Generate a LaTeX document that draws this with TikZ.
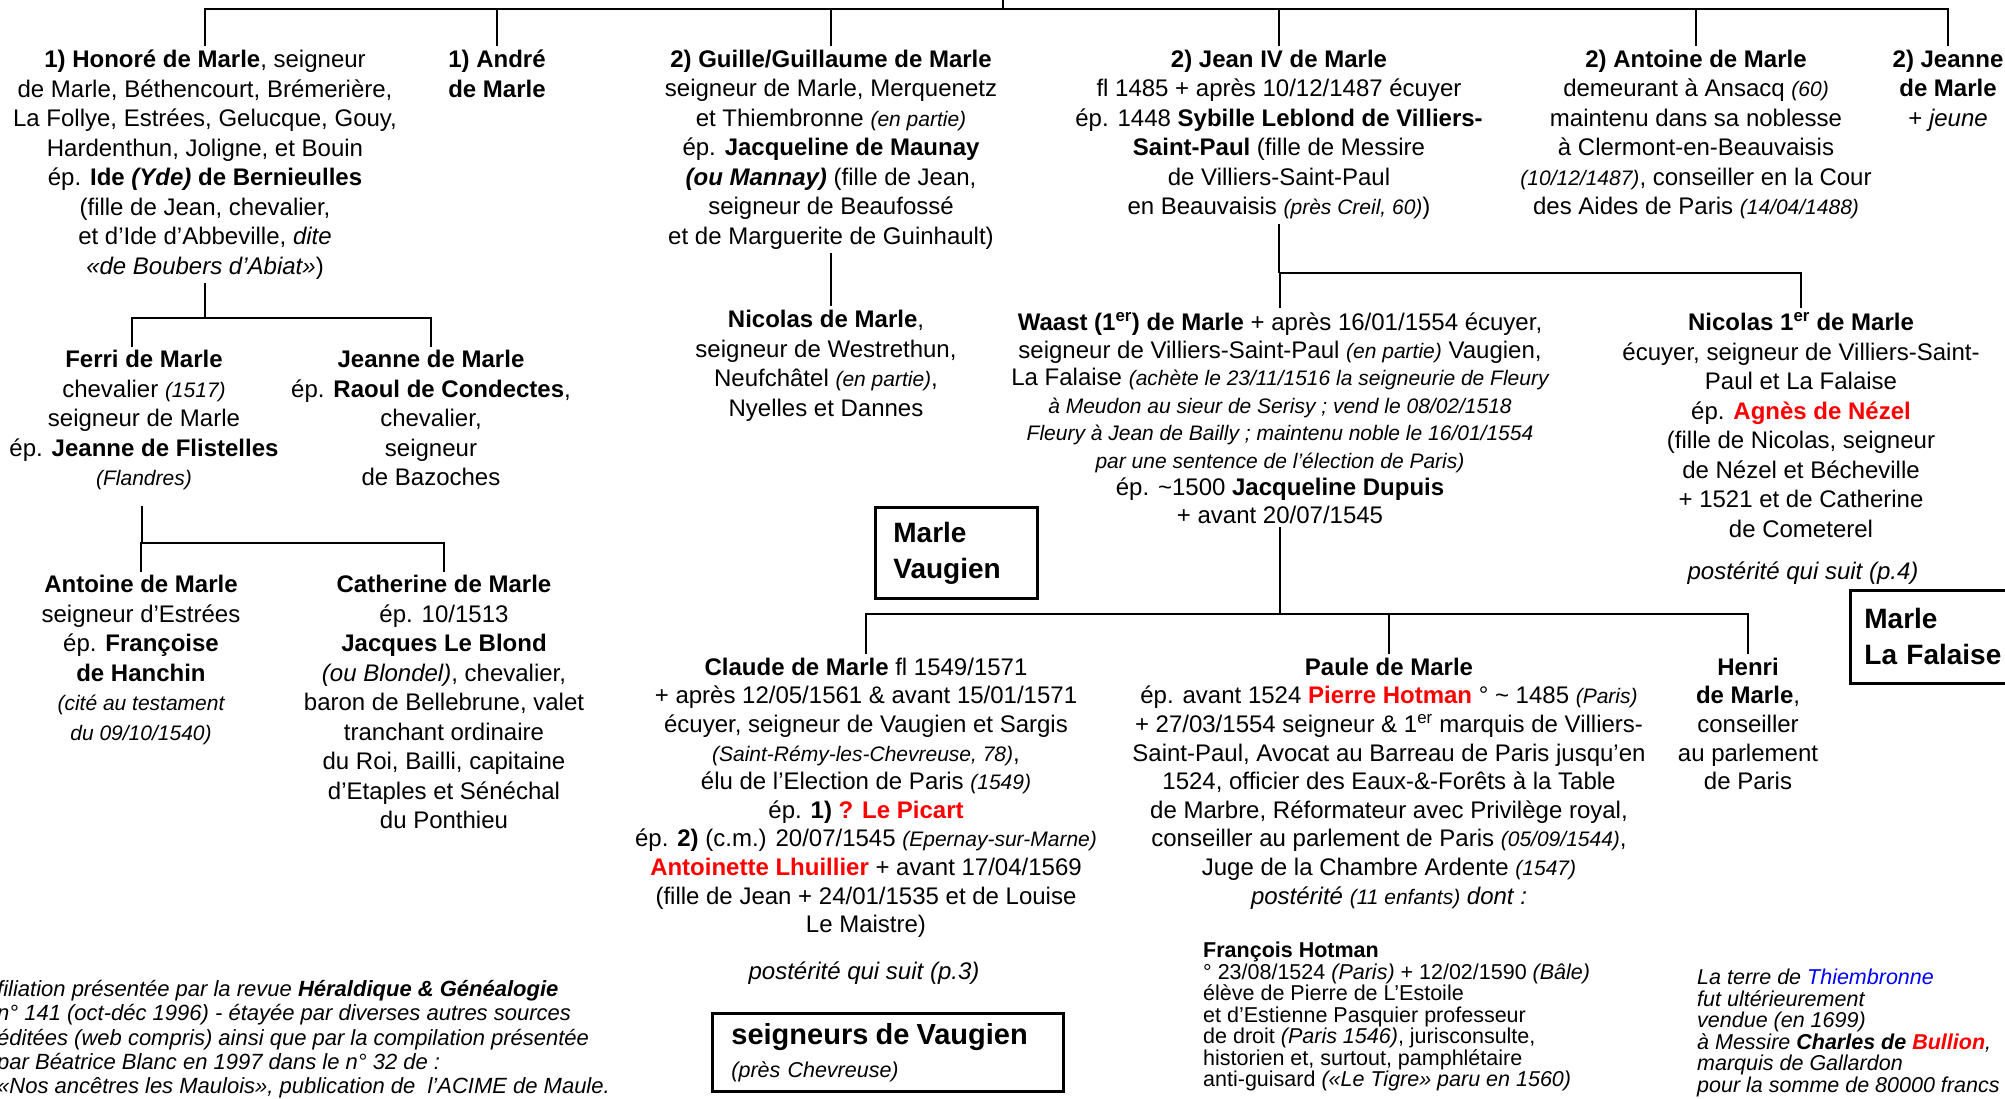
\documentclass[tikz,border=0pt]{standalone}
\usepackage{fontspec}
\setmainfont{Liberation Sans}
\usetikzlibrary{positioning}

\definecolor{nomrouge}{RGB}{255,0,0}
\definecolor{terrebleu}{RGB}{0,0,255}
\newcommand{\corps}{\fontsize{24}{29.5}\selectfont}
\newcommand{\corpsbas}{\fontsize{24}{28.6}\selectfont}
\newcommand{\notes}{\fontsize{21.5}{21.5}\selectfont}
\newcommand{\pit}[1]{{\fontsize{21}{21}\selectfont\itshape #1}}
\newcommand{\rouge}[1]{\textcolor{nomrouge}{#1}}

\begin{document}
\begin{tikzpicture}[x=1pt, y=-1pt,
    pers/.style={align=center, inner sep=0pt, outer sep=4pt, anchor=north, font=\corps},
    lien/.style={line width=2.8pt},
    cadre/.style={draw, line width=2.8pt, anchor=north west, align=left, inner ysep=0pt},
    note/.style={anchor=north west, align=left, inner sep=0pt, font=\notes}]
        \useasboundingbox (0,0) rectangle (2005,1099);
        \fill[white] (0,0) rectangle (2005,1099);

        % premiere generation
        \node[pers] (honore) at (205,46) {\textbf{1) Honoré de Marle}, seigneur\\ de Marle, Béthencourt, Brémerière,\\ La Follye, Estrées, Gelucque, Gouy,\\ Hardenthun, Joligne, et Bouin\\ ép. \textbf{Ide \textit{(Yde)} de Bernieulles}\\ (fille de Jean, chevalier,\\ et d’Ide d’Abbeville, \textit{dite}\\ \textit{«de Boubers d’Abiat»})};
        \node[pers] (andre) at (497,46) {\textbf{1) André}\\ \textbf{de Marle}};
        \node[pers] (guille) at (831,46) {\textbf{2) Guille/Guillaume de Marle}\\ seigneur de Marle, Merquenetz\\ et Thiembronne \pit{(en partie)}\\ ép. \textbf{Jacqueline de Maunay}\\ \textbf{\textit{(ou Mannay)}} (fille de Jean,\\ seigneur de Beaufossé\\ et de Marguerite de Guinhault)};
        \node[pers] (jean) at (1279,46) {\textbf{2) Jean IV de Marle}\\ fl 1485 + après 10/12/1487 écuyer\\ ép. 1448 \textbf{Sybille Leblond de Villiers-}\\ \textbf{Saint-Paul} (fille de Messire\\ de Villiers-Saint-Paul\\ en Beauvaisis \pit{(près Creil, 60)})};
        \node[pers] (antoine) at (1696,46) {\textbf{2) Antoine de Marle}\\ demeurant à Ansacq \pit{(60)}\\ maintenu dans sa noblesse\\ à Clermont-en-Beauvaisis\\ \pit{(10/12/1487)}, conseiller en la Cour\\ des Aides de Paris \pit{(14/04/1488)}};
        \node[pers] (jeanne) at (1948,46) {\textbf{2) Jeanne}\\ \textbf{de Marle}\\ + \textit{jeune}};

        % deuxieme generation
        \node[pers] (ferri) at (144,346.5) {\textbf{Ferri de Marle}\\ chevalier \pit{(1517)}\\ seigneur de Marle\\ ép. \textbf{Jeanne de Flistelles}\\ \pit{(Flandres)}};
        \node[pers] (jeannec) at (431,346.5) {\textbf{Jeanne de Marle}\\ ép. \textbf{Raoul de Condectes},\\ chevalier,\\ seigneur\\ de Bazoches};
        \node[pers] (nicolas) at (826,306.5) {\textbf{Nicolas de Marle},\\ seigneur de Westrethun,\\ Neufchâtel \pit{(en partie)},\\ Nyelles et Dannes};
        \node[pers, font=\fontsize{24}{27.5}\selectfont] (waast) at (1280,308.5) {\textbf{Waast (1\textsuperscript{er}) de Marle} + après 16/01/1554 écuyer,\\ seigneur de Villiers-Saint-Paul \pit{(en partie)} Vaugien,\\ La Falaise \pit{(achète le 23/11/1516 la seigneurie de Fleury}\\ \pit{à Meudon au sieur de Serisy ; vend le 08/02/1518}\\ \pit{Fleury à Jean de Bailly ; maintenu noble le 16/01/1554}\\ \pit{par une sentence de l’élection de Paris)}\\ ép. \textasciitilde1500 \textbf{Jacqueline Dupuis}\\ + avant 20/07/1545};
        \node[pers] (nicolasp) at (1801,308.5) {\textbf{Nicolas 1\textsuperscript{er} de Marle}\\ écuyer, seigneur de Villiers-Saint-\\ Paul et La Falaise\\ ép. \textbf{\rouge{Agnès de Nézel}}\\ (fille de Nicolas, seigneur\\ de Nézel et Bécheville\\ + 1521 et de Catherine\\ de Cometerel};
        \node[pers, font=\corps\itshape] (suitep4) at (1803,557.5) {postérité qui suit (p.4)};

        % troisieme generation
        \node[pers] (antoinem) at (141,571.5) {\textbf{Antoine de Marle}\\ seigneur d’Estrées\\ ép. \textbf{Françoise}\\ \textbf{de Hanchin}\\ \pit{(cité au testament}\\ \pit{du 09/10/1540)}};
        \node[pers] (catherine) at (444,571.5) {\textbf{Catherine de Marle}\\ ép. 10/1513\\ \textbf{Jacques Le Blond}\\ \textit{(ou Blondel)}, chevalier,\\ baron de Bellebrune, valet\\ tranchant ordinaire\\ du Roi, Bailli, capitaine\\ d’Etaples et Sénéchal\\ du Ponthieu};
        \node[pers, font=\corpsbas] (claude) at (866,654) {\textbf{Claude de Marle} fl 1549/1571\\ + après 12/05/1561 \& avant 15/01/1571\\ écuyer, seigneur de Vaugien et Sargis\\ \pit{(Saint-Rémy-les-Chevreuse, 78)},\\ élu de l’Election de Paris \pit{(1549)}\\ ép. \textbf{1) \rouge{? Le Picart}}\\ ép. \textbf{2)} (c.m.) 20/07/1545 \pit{(Epernay-sur-Marne)}\\ \textbf{\rouge{Antoinette Lhuillier}} + avant 17/04/1569\\ (fille de Jean + 24/01/1535 et de Louise\\ Le Maistre)};
        \node[pers, font=\corps\itshape] (suitep3) at (864,957.5) {postérité qui suit (p.3)};
        \node[pers, font=\corpsbas] (paule) at (1389,654) {\textbf{Paule de Marle}\\ ép. avant 1524 \textbf{\rouge{Pierre Hotman}} ° \textasciitilde{} 1485 \pit{(Paris)}\\ + 27/03/1554 seigneur \& 1\textsuperscript{er} marquis de Villiers-\\ Saint-Paul, Avocat au Barreau de Paris jusqu’en\\ 1524, officier des Eaux-\&-Forêts à la Table\\ de Marbre, Réformateur avec Privilège royal,\\ conseiller au parlement de Paris \pit{(05/09/1544)},\\ Juge de la Chambre Ardente \pit{(1547)}\\ \textit{postérité} \pit{(11 enfants)} \textit{dont :}};
        \node[pers, font=\corpsbas] (henri) at (1748,654) {\textbf{Henri}\\ \textbf{de Marle},\\ conseiller\\ au parlement\\ de Paris};

        % cadres
        \node[cadre, minimum width=162pt, minimum height=91pt, text width=126pt, inner xsep=18pt, font=\fontsize{28}{36}\selectfont\bfseries] (vaugien) at (874,506) {Marle\\ Vaugien};
        \node[cadre, minimum width=200pt, minimum height=93pt, text width=172pt, inner xsep=14pt, font=\fontsize{28}{36}\selectfont\bfseries] (falaise) at (1849,589) {Marle\\ La Falaise};
        \node[cadre, minimum width=351pt, minimum height=78pt, text width=313pt, inner xsep=19pt, font=\fontsize{21.5}{33}\selectfont] (seigneurs) at (711,1012) {{\fontsize{29}{33}\selectfont\bfseries seigneurs de Vaugien}\\ \textit{(près Chevreuse)}};

        % notes
        \node[note] (hotman) at (1203,942) {\textbf{François Hotman}\\ ° 23/08/1524 \textit{(Paris)} + 12/02/1590 \textit{(Bâle)}\\ élève de Pierre de L’Estoile\\ et d’Estienne Pasquier professeur\\ de droit \textit{(Paris 1546)}, jurisconsulte,\\ historien et, surtout, pamphlétaire\\ anti-guisard \textit{(«Le Tigre» paru en 1560)}};
        \node[note, font=\notes\itshape] (laterre) at (1697,969) {La terre de \textcolor{terrebleu}{Thiembronne}\\ fut ultérieurement\\ vendue (en 1699)\\ à Messire \textbf{Charles de \rouge{Bullion}},\\ marquis de Gallardon\\ pour la somme de 80000 francs};
        \node[note, font=\fontsize{22}{24.3}\selectfont\itshape] (filiation) at (-3,980) {filiation présentée par la revue \textbf{Héraldique \& Généalogie}\\ n° 141 (oct-déc 1996) - étayée par diverses autres sources\\ éditées (web compris) ainsi que par la compilation présentée\\ par Béatrice Blanc en 1997 dans le n° 32 de :\\ «Nos ancêtres les Maulois», publication de\ \ l’ACIME de Maule.};

        % liens
        \coordinate (souche) at (1003,9);
        \coordinate (amont) at (1003,-4);
        \draw[lien] (souche) -- (amont);
        \draw[lien] (honore.north) |- (souche) -| (jeanne.north);
        \foreach \n in {andre,guille,jean,antoine}
            \draw[lien] (\n.north) -- (\n.north |- souche);

        \coordinate (fratrie1) at (205,318);
        \draw[lien] (honore.south) -- (fratrie1);
        \draw[lien] ([xshift=-12pt]ferri.north) |- (fratrie1) -| (jeannec.north);

        \coordinate (fratrie2) at (142,543);
        \draw[lien] (ferri.south -| fratrie2) ++(0,12) -- (fratrie2);
        \draw[lien] (antoinem.north) |- (fratrie2) -| (catherine.north);

        \draw[lien] (guille.south) -- (guille.south |- nicolas.north);

        \coordinate (fratrie3) at (1279,273);
        \draw[lien] (jean.south) -- (fratrie3);
        \draw[lien] (waast.north) |- (fratrie3) -| (nicolasp.north);

        \coordinate (fratrie4) at (1280,614);
        \draw[lien] (waast.south) -- (fratrie4);
        \draw[lien] (claude.north) |- (fratrie4) -| (henri.north);
        \draw[lien] (paule.north) -- (paule.north |- fratrie4);
    \end{tikzpicture}
\end{document}
